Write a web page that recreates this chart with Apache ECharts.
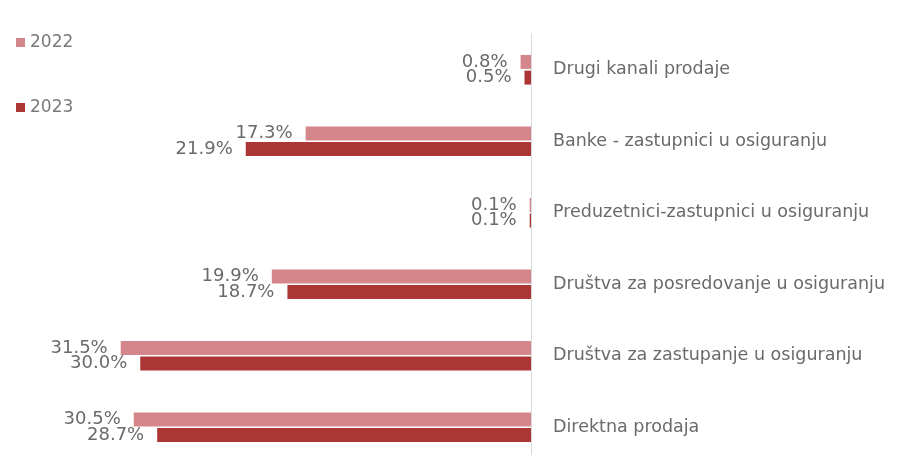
<!DOCTYPE html>
<html>
<head>
<meta charset="utf-8">
<script src="https://cdn.jsdelivr.net/npm/echarts@6/dist/echarts.min.js"></script>
<style>
html,body{margin:0;padding:0;background:#fff;}
#c{width:903px;height:455px;}
</style>
</head>
<body>
<div id="c"></div>
<script>
const categories = [
  'Drugi kanali prodaje',
  'Banke - zastupnici u osiguranju',
  'Preduzetnici-zastupnici u osiguranju',
  'Društva za posredovanje u osiguranju',
  'Društva za zastupanje u osiguranju',
  'Direktna prodaja'
];
const values2022 = [0.8, 17.3, 0.1, 19.9, 31.5, 30.5];
const values2023 = [0.5, 21.9, 0.1, 18.7, 30.0, 28.7];
const seriesNames = ['2022', '2023'];

const chart = echarts.init(document.getElementById('c'));
const labelStyle = {
  show: true,
  position: 'left',
  distance: 13,
  color: '#6a6a6a',
  fontFamily: 'DejaVu Sans',
  fontSize: 18,
  lineHeight: 17,
  formatter: p => p.value.toFixed(1) + '%'
};
chart.setOption({
  animation: false,
  backgroundColor: '#fff',
  legend: {
    orient: 'vertical',
    left: 11,
    top: 29,
    itemWidth: 9,
    itemHeight: 9,
    itemGap: 48,
    icon: 'rect',
    textStyle: { color: '#7a7a7a', fontFamily: 'DejaVu Sans', fontSize: 17, lineHeight: 17 },
    data: seriesNames
  },
  grid: { left: 10, right: 372, top: 34, height: 429, containLabel: false, outerBoundsMode: 'none' },
  xAxis: {
    type: 'value',
    inverse: true,
    min: 0,
    max: 40,
    show: false
  },
  yAxis: {
    type: 'category',
    data: categories,
    inverse: true,
    position: 'right',
    axisLine: { show: true, lineStyle: { color: '#d9d9d9', width: 1 } },
    axisTick: { show: false },
    axisLabel: {
      margin: 22,
      color: '#6a6a6a',
      fontFamily: 'DejaVu Sans',
      fontSize: 17.5
    }
  },
  series: [
    {
      name: seriesNames[0], type: 'bar', data: values2022,
      barWidth: 14, barGap: '12%',
      itemStyle: { color: '#d5868b' },
      label: labelStyle
    },
    {
      name: seriesNames[1], type: 'bar', data: values2023,
      barWidth: 14, barGap: '12%',
      itemStyle: { color: '#ac3535' },
      label: labelStyle
    }
  ]
});
</script>
</body>
</html>
